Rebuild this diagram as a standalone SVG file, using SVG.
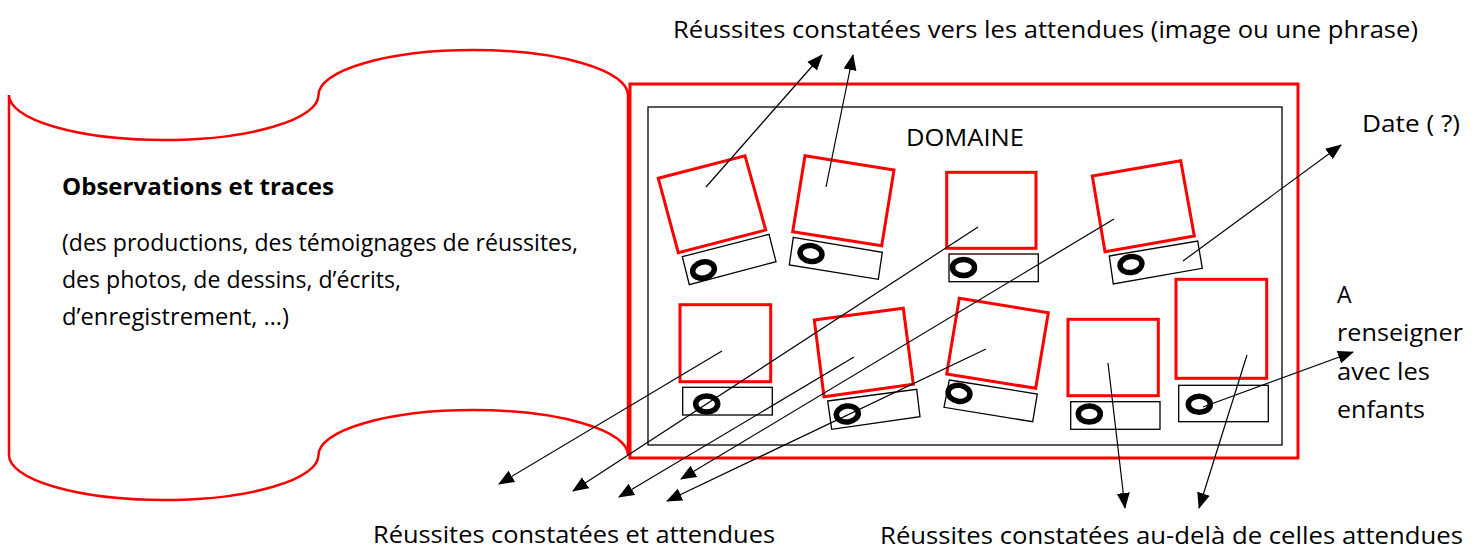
<svg xmlns="http://www.w3.org/2000/svg" width="1475" height="550" viewBox="0 0 1475 550">
<style>
.red{fill:none;stroke:#FF0000;stroke-width:3}
.lbl{fill:none;stroke:#000;stroke-width:1.3}
.ring{fill:none;stroke:#000;stroke-width:5.5}
.t{font-family:"Open Sans","Noto Sans",sans-serif;font-size:23px;fill:#000}
.b{font-family:"Open Sans","Noto Sans",sans-serif;font-size:23px;font-weight:bold;fill:#000}
.c{stroke:#000;stroke-width:1.2;fill:none;marker-end:url(#ah)}
</style>
<defs>
<marker id="ah" markerUnits="userSpaceOnUse" markerWidth="16" markerHeight="14" refX="15" refY="6.5" orient="auto" viewBox="0 0 16 13">
<path d="M0,0 L16,6.5 L0,13 z" fill="#000"/>
</marker>
</defs>
<rect width="1475" height="550" fill="#fff"/>
<g id="scroll">
<path d="M9,95 A154.75,45 0 0 0 318.5,95 A154.75,45 0 0 1 628,95 L628,455 A154.75,45 0 0 0 318.5,455 A154.75,45 0 0 1 9,455 Z" fill="#fff" stroke="#FF0000" stroke-width="2.5"/>
<text class="b" x="62" y="195" textLength="272" lengthAdjust="spacingAndGlyphs">Observations et traces</text>
<text class="t" x="62" y="251" textLength="516" lengthAdjust="spacingAndGlyphs">(des productions, des témoignages de réussites,</text>
<text class="t" x="62" y="288" textLength="339" lengthAdjust="spacingAndGlyphs">des photos, de dessins, d’écrits,</text>
<text class="t" x="62" y="325" textLength="227" lengthAdjust="spacingAndGlyphs">d’enregistrement, …)</text>
</g>
<g id="domaine">
<rect x="630" y="84" width="668" height="374" fill="#fff" stroke="#FF0000" stroke-width="3"/>
<rect x="648" y="107" width="634" height="338" fill="none" stroke="#000" stroke-width="1.3"/>
<text class="t" x="906" y="146" textLength="118" lengthAdjust="spacingAndGlyphs">DOMAINE</text>
</g>
<g id="card1">
<polygon class="red" points="658.3,178.3 745,155.7 765.7,230 678.3,252.7"/>
<polygon class="lbl" points="682.3,256.7 769,234.3 776,261.7 689.3,284.7"/>
<ellipse class="ring" cx="703.5" cy="270" rx="11" ry="8" transform="rotate(-14.6 703.5 270)"/>
</g>
<g id="card2">
<polygon class="red" points="805,155.7 894,170 881.7,245.7 792.7,231.7"/>
<polygon class="lbl" points="793.3,237.3 882.3,252.3 878.3,279.3 789.3,265"/>
<ellipse class="ring" cx="811" cy="253.5" rx="11" ry="8" transform="rotate(9.1 811 253.5)"/>
</g>
<g id="card3">
<rect class="red" x="946.7" y="172.3" width="89.3" height="76"/>
<rect class="lbl" x="949" y="254" width="89.3" height="27.7"/>
<ellipse class="ring" cx="963.5" cy="267.5" rx="11" ry="8"/>
</g>
<g id="card4">
<polygon class="red" points="1092.3,176 1180.7,160.7 1194.3,236 1105,251.7"/>
<polygon class="lbl" points="1109.3,256 1197.7,241 1202.3,268.3 1113.3,284"/>
<ellipse class="ring" cx="1131" cy="264.5" rx="11" ry="8" transform="rotate(-9.8 1131 264.5)"/>
</g>
<g id="card5">
<rect class="red" x="680" y="304.7" width="90.7" height="77"/>
<rect class="lbl" x="682.7" y="387.3" width="89.6" height="27.7"/>
<ellipse class="ring" cx="706.7" cy="404" rx="11" ry="8"/>
</g>
<g id="card6">
<polygon class="red" points="814.3,320 903.3,308.3 913.3,384.3 824,396.7"/>
<polygon class="lbl" points="827.7,401 916.7,389.3 920,416.7 831.7,429.3"/>
<ellipse class="ring" cx="847.3" cy="414" rx="11" ry="8" transform="rotate(-7.5 847.3 414)"/>
</g>
<g id="card7">
<polygon class="red" points="959.3,298.3 1048.3,312.7 1035.7,388.3 946.7,374"/>
<polygon class="lbl" points="949.3,380 1037.3,394 1032.7,421.7 944,407.3"/>
<ellipse class="ring" cx="959" cy="393.3" rx="11" ry="8" transform="rotate(9.2 959 393.3)"/>
</g>
<g id="card8">
<rect class="red" x="1068" y="319.3" width="90.3" height="76.4"/>
<rect class="lbl" x="1070.7" y="401.7" width="89.3" height="27.6"/>
<ellipse class="ring" cx="1089.3" cy="414" rx="11" ry="8"/>
</g>
<g id="card9">
<rect class="red" x="1176" y="279.3" width="90.7" height="99"/>
<rect class="lbl" x="1178.7" y="385.3" width="89.6" height="36.4"/>
<ellipse class="ring" cx="1199.3" cy="404.3" rx="11" ry="8"/>
</g>
<g id="labels">
<text class="t" x="673" y="38" textLength="745" lengthAdjust="spacingAndGlyphs">Réussites constatées vers les attendues (image ou une phrase)</text>
<text class="t" x="1362" y="132" textLength="98" lengthAdjust="spacingAndGlyphs">Date ( ?)</text>
<text class="t" x="1337" y="303">A</text>
<text class="t" x="1337" y="341" textLength="126" lengthAdjust="spacingAndGlyphs">renseigner</text>
<text class="t" x="1337" y="380" textLength="93" lengthAdjust="spacingAndGlyphs">avec les</text>
<text class="t" x="1337" y="418" textLength="88" lengthAdjust="spacingAndGlyphs">enfants</text>
<text class="t" x="373" y="543" textLength="402" lengthAdjust="spacingAndGlyphs">Réussites constatées et attendues</text>
<text class="t" x="880" y="544" textLength="583" lengthAdjust="spacingAndGlyphs">Réussites constatées au-delà de celles attendues</text>
</g>
<g id="connectors">
<line class="c" x1="706" y1="187" x2="822" y2="55"/>
<line class="c" x1="826" y1="187" x2="853" y2="55"/>
<line class="c" x1="1183" y1="261" x2="1341" y2="145"/>
<line class="c" x1="722" y1="351" x2="499" y2="484"/>
<line class="c" x1="978" y1="227" x2="573" y2="491"/>
<line class="c" x1="854" y1="357" x2="619" y2="497"/>
<line class="c" x1="1114" y1="219" x2="681" y2="479"/>
<line class="c" x1="986" y1="349" x2="667" y2="501"/>
<line class="c" x1="1108" y1="363" x2="1125" y2="508"/>
<line class="c" x1="1247" y1="355" x2="1199" y2="508"/>
<line class="c" x1="1203" y1="407" x2="1353" y2="352"/>
</g>
</svg>
